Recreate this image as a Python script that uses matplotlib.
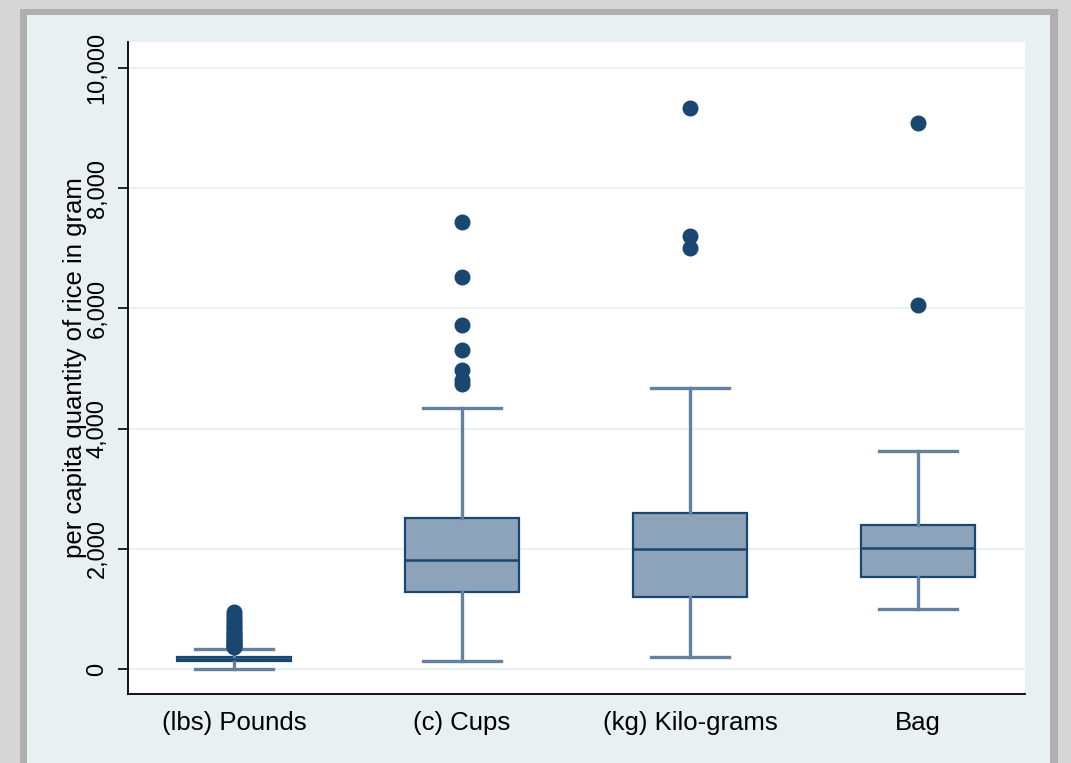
import matplotlib
matplotlib.use("Agg")
import matplotlib.pyplot as plt
from matplotlib.patches import Rectangle
from matplotlib.ticker import StrMethodFormatter

# Daten
categories = ['(lbs) Pounds', '(c) Cups', '(kg) Kilo-grams', 'Bag']
medians = [165, 1810, 2000, 2020]
q1 = [125, 1280, 1200, 1530]
q3 = [205, 2520, 2600, 2400]
whisker_low = [5, 140, 200, 1000]
whisker_high = [335, 4350, 4670, 3630]
outliers = [
    [360, 380, 400, 420, 450, 470, 500, 520, 550, 580, 600, 640, 680, 720, 760, 800, 850, 900, 950],
    [4750, 4800, 4970, 5300, 5720, 6520, 7430],
    [7000, 7200, 9330],
    [6050, 9080],
]
yticks = [0, 2000, 4000, 6000, 8000, 10000]

navy = '#1A476F'
box_fill = '#8DA3B9'
whisker_col = '#6482A0'
panel_col = '#E8F0F2'

plt.rcParams['font.family'] = ['Liberation Sans', 'DejaVu Sans']

fig = plt.figure(figsize=(10.71, 7.63), dpi=100)
fig.patch.set_facecolor('#D6D6D6')

# Screenshot-Rahmen (hinter den Achsen)
W, H = 1071, 763
fig.patches.append(Rectangle((20 / W, 0), 1038 / W, 1 - 9 / H, transform=fig.transFigure,
                             facecolor='#AFAFAF', edgecolor='none', zorder=-2))
fig.patches.append(Rectangle((27 / W, 0), 1023 / W, 1 - 15 / H, transform=fig.transFigure,
                             facecolor=panel_col, edgecolor='none', zorder=-1))

ax = fig.add_axes([128 / W, 1 - 694 / H, 897 / W, 652 / H])
ax.set_facecolor('white')

stats = []
for i in range(len(categories)):
    stats.append({
        'med': medians[i], 'q1': q1[i], 'q3': q3[i],
        'whislo': whisker_low[i], 'whishi': whisker_high[i],
        'fliers': outliers[i], 'label': categories[i],
    })

ax.bxp(stats, positions=[1, 2, 3, 4], widths=0.5, capwidths=0.34,
       patch_artist=True, showfliers=True,
       boxprops=dict(facecolor=box_fill, edgecolor=navy, linewidth=1.6),
       medianprops=dict(color=navy, linewidth=1.8),
       whiskerprops=dict(color=whisker_col, linewidth=2.4),
       capprops=dict(color=whisker_col, linewidth=2.4),
       flierprops=dict(marker='o', markerfacecolor=navy, markeredgecolor=navy,
                       markersize=10.5, linestyle='none'))

ax.set_xlim(0.535, 4.47)
ax.set_ylim(-417, 10433)
ax.set_yticks(yticks)
ax.yaxis.set_major_formatter(StrMethodFormatter('{x:,.0f}'))
ax.grid(axis='y', color='#E6EFF1', linewidth=1.2)
ax.set_axisbelow(True)

for s in ['top', 'right']:
    ax.spines[s].set_visible(False)
for s in ['left', 'bottom']:
    ax.spines[s].set_linewidth(1.3)
    ax.spines[s].set_color('black')

ax.tick_params(axis='y', length=7, width=1.2, labelsize=17, pad=7)
ax.tick_params(axis='x', length=0, labelsize=18.5, pad=12)
for lab in ax.get_yticklabels():
    lab.set_rotation(90)
    lab.set_va('center')

ax.set_ylabel('per capita quantity of rice in gram', fontsize=18.5, labelpad=0)

fig.savefig('out.png', dpi=100, facecolor=fig.get_facecolor())
